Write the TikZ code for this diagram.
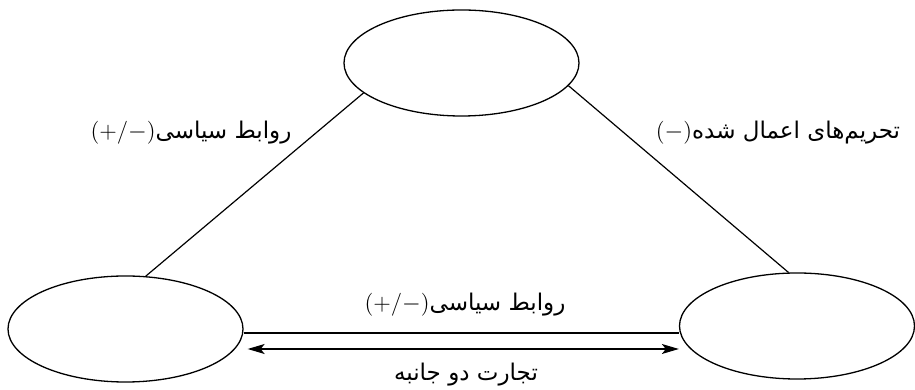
\documentclass[tikz,border=0pt]{standalone}
\usepackage{fontspec}
\usetikzlibrary{arrows.meta,positioning,shapes.geometric}
\newfontfamily\arabicfont[Script=Arabic]{DejaVu Sans}
\TeXXeTstate=1
\newcommand{\signs}[1]{{\rmfamily(#1)}}

\begin{document}
\begin{tikzpicture}[x=1pt, y=1pt,
  actor/.style={draw, ellipse, line width=0.65pt, minimum width=117.5pt, minimum height=53pt, inner sep=0pt},
  link/.style={line width=0.6pt},
  rel/.style={font=\fontsize{11.5}{13}\selectfont, inner sep=1pt}]
  \useasboundingbox (0,0) rectangle (457.5,195);
  \node[actor] (upper) at (230.75,163.5) {};
  \node[actor] (lowleft) at (62.75,30.5) {};
  \node[actor] (lowright) at (398.5,32) {};

  \draw[link] (upper.197) -- (lowleft.69);
  \draw[link] (upper.348) -- (lowright.99);
  \draw[link] ([yshift=-2pt]lowleft.east) -- ([yshift=-3.5pt]lowright.west);
  \draw[link, {Stealth[length=8.5pt,width=5pt,inset=2pt]}-{Stealth[length=8.5pt,width=5pt,inset=2pt]}]
    ([shift={(2pt,-10pt)}]lowleft.east) -- ([yshift=-11.5pt]lowright.west);

  \node[rel] (polleft) at (95.5,128.5) {\signs{+/$-$}{\arabicfont\beginR روابط سیاسی\endR}};
  \node[rel] (sanction) at (389,128.5) {\signs{$-$}{\arabicfont\beginR تحریم‌های اعمال شده\endR}};
  \node[rel] (polmid) at (232.5,42.5) {\signs{+/$-$}{\arabicfont\beginR روابط سیاسی\endR}};
  \node[rel] (trade) at (233,7.5) {{\arabicfont\beginR تجارت دو جانبه\endR}};
\end{tikzpicture}
\end{document}
